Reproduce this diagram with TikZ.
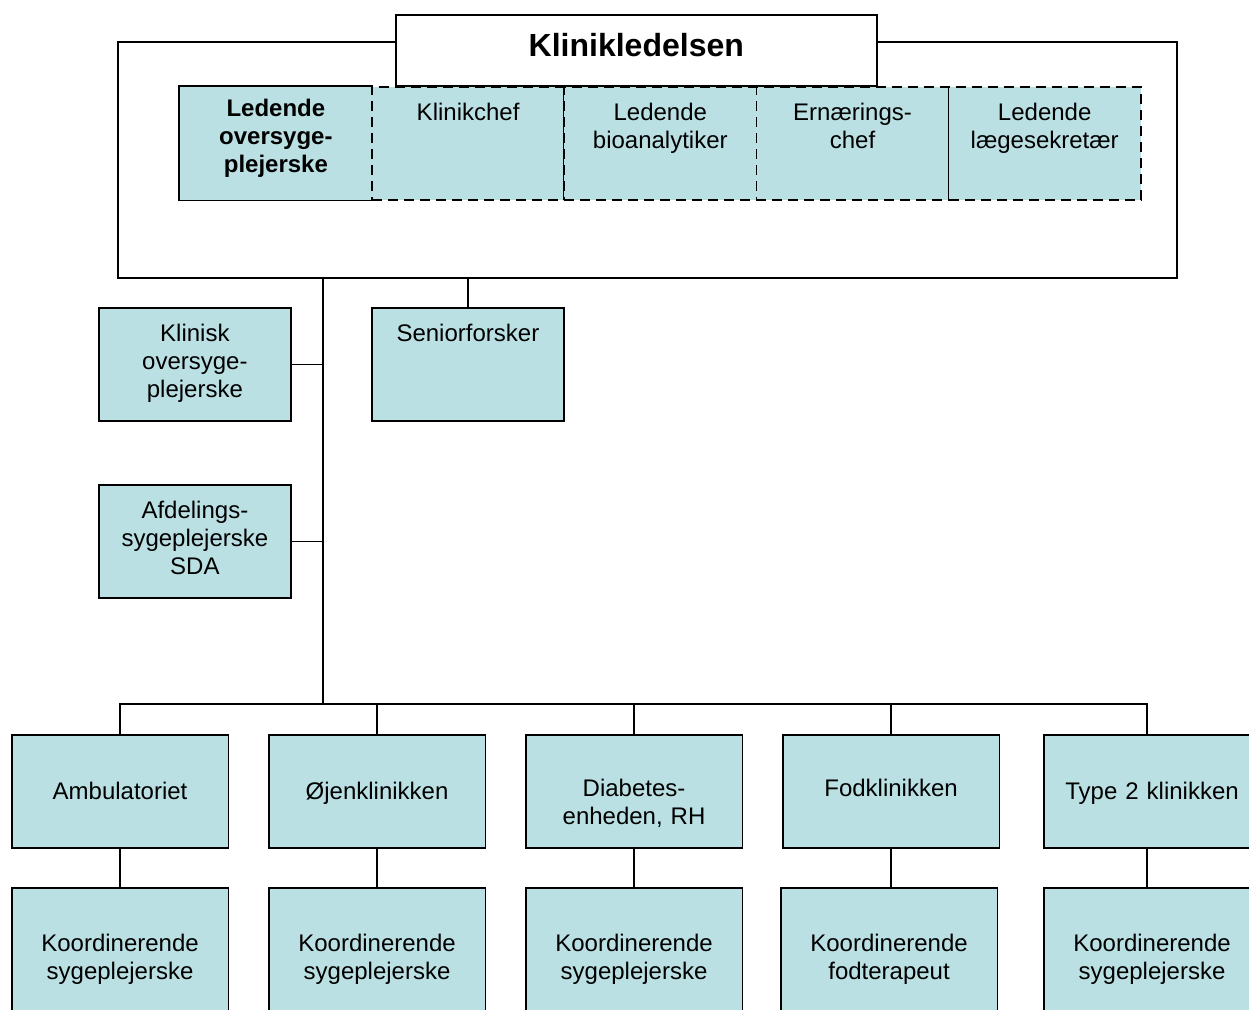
\documentclass[tikz,border=0pt]{standalone}
\usepackage{fontspec}
\setmainfont{Liberation Sans}
\definecolor{celle}{RGB}{186,224,227}
\tikzset{
  boks/.style={draw,fill=celle,line width=1.6pt,inner sep=0pt,anchor=north west,align=center,font=\fontsize{24}{28}\selectfont},
  smal/.style={boks,minimum width=192.2pt,minimum height=113pt,text width=184pt},
  bred/.style={boks,minimum width=216.5pt,minimum height=113pt,text width=208pt},
  stiplet/.style={dash pattern=on 10pt off 6pt},
  fed/.style={text height=29.5pt,text depth=83.5pt,font=\fontsize{24}{28}\selectfont\bfseries},
  oppe/.style={text height=33.5pt,text depth=79.5pt},
  midt/.style={text height=64.5pt,text depth=48.5pt},
  hoej/.style={text height=61.5pt,text depth=51.5pt},
  nede/.style={minimum height=140pt,text height=63.5pt,text depth=76.5pt},
  streg/.style={line width=1.4pt}
}
\begin{document}
\begin{tikzpicture}[x=1pt,y=-1pt]
\useasboundingbox (0,0) rectangle (1249,1009);
\clip (0,0) rectangle (1249,1009);
\node[draw,line width=1.6pt,inner sep=0pt,anchor=north west,minimum width=1059pt,minimum height=236pt] (ramme) at (117,41) {};
\node[smal,fed,draw=none] (leo) at (179,86) {Ledende\\oversyge-\\plejerske};
\draw[line width=1.6pt] (leo.north east)--(leo.north west)--(leo.south west)--(leo.south east);
\node[smal,oppe,stiplet] (klc) at (371.2,86) {Klinikchef};
\node[smal,oppe,stiplet] (lbio) at (563.4,86) {Ledende\\bioanalytiker};
\node[smal,oppe,stiplet] (ern) at (755.6,86) {Ernærings-\\chef};
\node[smal,oppe,stiplet] (lls) at (947.8,86) {Ledende\\lægesekretær};
\node[draw,fill=white,line width=1.6pt,inner sep=0pt,anchor=north west,minimum width=481pt,minimum height=71pt,text height=41.5pt,text depth=29.5pt,font=\fontsize{32}{38}\selectfont\bfseries] (ledelse) at (395,14) {Klinikledelsen};
\node[smal,oppe] (klos) at (98,307) {Klinisk\\oversyge-\\plejerske};
\node[smal,oppe] (sen) at (371,307) {Seniorforsker};
\node[smal,oppe] (afd) at (98,484) {Afdelings-\\sygeplejerske\\SDA};
\node[bred,midt] (amb) at (11,734) {Ambulatoriet};
\node[bred,midt] (ojen) at (268,734) {Øjenklinikken};
\node[bred,hoej] (diab) at (525,734) {Diabetes-\\enheden, RH};
\node[bred,hoej] (fod) at (782,734) {Fodklinikken};
\node[bred,midt] (typ2) at (1043,734) {Type 2 klinikken};
\node[bred,nede] (koamb) at (11,887) {Koordinerende\\sygeplejerske};
\node[bred,nede] (kojen) at (268,887) {Koordinerende\\sygeplejerske};
\node[bred,nede] (kodiab) at (525,887) {Koordinerende\\sygeplejerske};
\node[bred,nede] (kofod) at (780,887) {Koordinerende\\fodterapeut};
\node[bred,nede] (kotyp2) at (1043,887) {Koordinerende\\sygeplejerske};
\coordinate (bus) at (323,704);
\draw[streg] (ramme.south -| bus)--(bus);
\draw[streg] (klos.east)--(klos.east -| bus);
\draw[streg] (afd.east)--(afd.east -| bus);
\draw[streg] (sen.north)--(sen.north |- ramme.south);
\draw[streg] (amb.north) |- ([xshift=-5pt]typ2.north |- bus)--([xshift=-5pt]typ2.north);
\draw[streg] (ojen.north)--(ojen.north |- bus);
\draw[streg] (diab.north)--(diab.north |- bus);
\draw[streg] (fod.north)--(fod.north |- bus);
\draw[streg] (amb.south)--(amb.south |- koamb.north);
\draw[streg] (ojen.south)--(ojen.south |- kojen.north);
\draw[streg] (diab.south)--(diab.south |- kodiab.north);
\draw[streg] (fod.south)--(fod.south |- kofod.north);
\draw[streg] ([xshift=-5pt]typ2.south)--([xshift=-5pt]kotyp2.north);
\end{tikzpicture}
\end{document}
